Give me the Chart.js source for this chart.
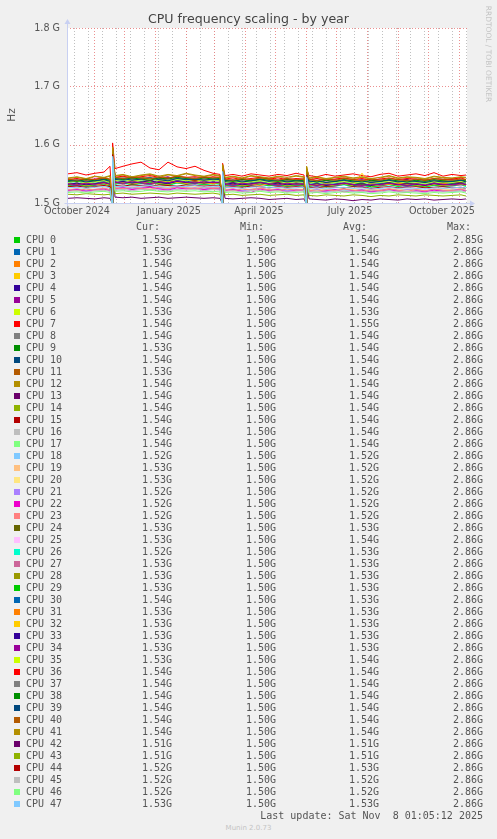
<!DOCTYPE html>
<html>
<head>
<meta charset="utf-8">
<script src="https://cdn.jsdelivr.net/npm/chart.js@4.4.1/dist/chart.umd.min.js"></script>
<style>
  html, body { margin: 0; padding: 0; background: #f0f0f0; }
  body { width: 497px; height: 839px; position: relative; overflow: hidden; font-family: "DejaVu Sans", sans-serif; }
  #chart { position: absolute; left: 0; top: 0; }
  .t { position: absolute; white-space: pre; }
  .mono { font-family: "DejaVu Sans Mono", monospace; font-size: 10px; color: #555; line-height: 12px; }
  .sq { position: absolute; width: 6px; height: 6px; }
</style>
</head>
<body>
<canvas id="chart" width="497" height="230"></canvas>
<div class="t" style="left:0;top:11px;width:497px;text-align:center;font-size:12.6px;line-height:15px;color:#444;">CPU frequency scaling - by year</div>
<div class="t" style="left:-9px;top:109px;width:40px;height:12px;line-height:12px;text-align:center;font-size:10.5px;color:#555;transform:rotate(-90deg);">Hz</div>
<div class="t" style="left:427.5px;top:48.5px;width:120px;height:10px;line-height:10px;text-align:center;font-size:7.5px;color:#c4c4c4;transform:rotate(90deg);">RRDTOOL / TOBI OETIKER</div>
<div id="legend"></div>
<script>
// x positions: days since 1 Oct 2024 (spike days get a low and a high sample)
const days = [5,14,23,32,41,47, 49,49.6, 52,60,69,78,87,96,105,114,123,132,141,150,157, 159,159.6,
  162,170,179,188,197,206,215,224,233,241, 243,243.6,
  246,254,263,272,281,290,299,308,317,326,335,344,353,362,371,380,389,398,403];

// CPU clock in MHz
const cpu0 = [1536,1538,1534,1537,1535,1536,1500,1592,1540,1538,1541,1537,1542,1539,1543,1538,1540,1542,1537,1541,1539,1500,1560,1535,1537,1533,1536,1538,1534,1536,1533,1537,1535,1500,1555,1534,1536,1533,1535,1537,1532,1534,1536,1533,1535,1534,1537,1533,1535,1532,1536,1534,1533,1535];
const cpu1 = [1535,1533,1536,1534,1537,1535,1500,1590,1538,1540,1537,1541,1539,1542,1538,1540,1536,1539,1541,1538,1540,1500,1559,1536,1534,1537,1535,1533,1536,1534,1537,1535,1534,1500,1554,1535,1533,1536,1534,1532,1535,1537,1534,1533,1536,1535,1533,1534,1536,1535,1533,1534,1536,1533];
const cpu2 = [1539,1541,1537,1540,1538,1542,1500,1594,1543,1541,1544,1540,1545,1542,1540,1543,1541,1544,1540,1542,1541,1500,1562,1539,1537,1540,1538,1541,1536,1539,1541,1538,1537,1500,1557,1537,1539,1536,1538,1540,1537,1535,1538,1539,1536,1538,1540,1537,1539,1536,1538,1537,1539,1536];
const cpu3 = [1537,1539,1540,1536,1539,1537,1500,1591,1541,1543,1539,1542,1540,1544,1541,1539,1543,1540,1542,1539,1541,1500,1561,1538,1536,1539,1537,1540,1538,1535,1538,1536,1539,1500,1556,1536,1538,1535,1537,1539,1541,1536,1538,1535,1537,1539,1536,1538,1535,1537,1539,1536,1537,1538];
const cpu4 = [1538,1536,1539,1537,1540,1536,1500,1589,1540,1542,1539,1543,1541,1539,1542,1544,1540,1541,1543,1540,1542,1500,1558,1537,1539,1536,1538,1535,1539,1537,1536,1538,1540,1500,1553,1538,1535,1537,1539,1536,1538,1540,1535,1537,1539,1536,1538,1541,1536,1538,1537,1539,1536,1538];
const cpu5 = [1537,1539,1538,1541,1536,1538,1500,1590,1542,1540,1543,1541,1539,1543,1545,1540,1542,1539,1541,1544,1540,1500,1559,1536,1538,1540,1537,1539,1536,1538,1540,1537,1536,1500,1554,1537,1539,1538,1536,1540,1537,1539,1541,1536,1538,1537,1540,1536,1539,1538,1536,1540,1537,1538];
const cpu6 = [1531,1533,1530,1532,1534,1531,1500,1585,1535,1533,1536,1534,1532,1535,1537,1534,1533,1536,1534,1532,1535,1500,1555,1531,1533,1530,1532,1534,1531,1533,1530,1532,1531,1500,1550,1530,1532,1529,1531,1533,1530,1532,1529,1531,1533,1530,1532,1531,1529,1532,1530,1531,1533,1530];
const cpu7 = [1550,1552,1548,1551,1553,1563,1500,1603,1559,1563,1567,1570,1560,1557,1570,1562,1559,1563,1556,1551,1549,1500,1568,1547,1549,1546,1550,1548,1546,1549,1547,1551,1548,1500,1558,1547,1545,1549,1546,1548,1550,1547,1545,1549,1551,1546,1548,1550,1547,1552,1546,1549,1547,1548];
const cpu8 = [1538,1536,1539,1537,1535,1538,1500,1588,1541,1539,1542,1540,1538,1543,1540,1542,1539,1541,1538,1540,1539,1500,1557,1537,1535,1538,1536,1539,1537,1535,1538,1536,1537,1500,1553,1536,1538,1535,1537,1534,1538,1536,1535,1537,1539,1535,1537,1536,1534,1538,1536,1537,1535,1536];
const cpu9 = [1536,1538,1535,1537,1539,1536,1500,1587,1539,1541,1538,1540,1543,1539,1541,1538,1542,1540,1539,1541,1538,1500,1556,1536,1538,1535,1537,1535,1538,1536,1534,1537,1536,1500,1552,1535,1537,1534,1536,1538,1535,1533,1536,1538,1535,1537,1534,1536,1538,1535,1537,1534,1536,1535];
const cpu10 = [1539,1537,1540,1538,1536,1539,1500,1589,1542,1540,1538,1541,1543,1540,1542,1539,1541,1544,1540,1538,1541,1500,1558,1538,1536,1539,1537,1536,1540,1538,1536,1539,1537,1500,1554,1537,1535,1538,1536,1539,1537,1535,1538,1536,1540,1537,1535,1538,1536,1539,1537,1535,1538,1537];
const cpu11 = [1540,1538,1541,1539,1542,1540,1500,1592,1543,1545,1541,1544,1542,1546,1543,1541,1544,1542,1545,1541,1543,1500,1563,1540,1538,1541,1539,1542,1538,1540,1542,1539,1541,1500,1558,1539,1541,1538,1540,1542,1539,1537,1540,1542,1538,1540,1539,1541,1538,1540,1542,1539,1541,1538];
const cpu12 = [1542,1544,1541,1545,1543,1546,1500,1595,1546,1548,1544,1547,1549,1545,1548,1546,1550,1547,1545,1548,1546,1500,1565,1543,1545,1542,1546,1544,1542,1545,1543,1546,1544,1500,1562,1542,1544,1541,1543,1545,1542,1544,1541,1543,1546,1542,1544,1543,1541,1545,1543,1542,1544,1543];
const cpu13 = [1537,1539,1536,1538,1540,1537,1500,1588,1540,1542,1539,1541,1538,1542,1544,1540,1541,1539,1542,1540,1538,1500,1557,1537,1535,1538,1536,1539,1537,1535,1538,1537,1536,1500,1552,1536,1538,1535,1537,1539,1536,1538,1535,1537,1536,1538,1540,1535,1537,1536,1538,1535,1537,1536];
const cpu14 = [1538,1540,1537,1539,1541,1538,1500,1590,1541,1543,1540,1542,1544,1541,1539,1543,1541,1540,1542,1544,1540,1500,1559,1538,1540,1537,1539,1536,1540,1538,1537,1539,1538,1500,1555,1537,1539,1536,1538,1540,1537,1539,1536,1538,1537,1539,1536,1538,1540,1537,1539,1536,1538,1537];
const cpu15 = [1536,1538,1535,1537,1539,1536,1500,1589,1539,1541,1543,1540,1542,1539,1541,1543,1540,1538,1541,1539,1542,1500,1557,1536,1538,1535,1537,1539,1536,1534,1537,1535,1538,1500,1553,1535,1537,1534,1536,1538,1535,1537,1534,1536,1538,1535,1533,1536,1538,1535,1537,1536,1534,1536];
const cpu16 = [1539,1537,1540,1538,1541,1539,1500,1591,1542,1544,1541,1543,1540,1544,1542,1540,1543,1545,1541,1543,1540,1500,1560,1539,1537,1540,1538,1541,1539,1537,1540,1538,1539,1500,1556,1538,1540,1537,1539,1541,1538,1536,1539,1541,1537,1539,1538,1540,1537,1539,1541,1538,1540,1537];
const cpu17 = [1535,1537,1534,1536,1538,1535,1500,1586,1538,1540,1537,1539,1541,1538,1536,1540,1538,1541,1537,1539,1538,1500,1555,1535,1537,1534,1536,1538,1535,1537,1534,1536,1535,1500,1551,1534,1536,1533,1535,1537,1534,1536,1533,1535,1537,1534,1536,1535,1533,1536,1534,1535,1537,1534];
const cpu18 = [1521,1522,1520,1522,1523,1521,1500,1578,1524,1523,1525,1524,1522,1525,1524,1523,1525,1524,1522,1524,1523,1500,1550,1521,1522,1520,1521,1523,1521,1522,1520,1521,1522,1500,1544,1520,1521,1519,1521,1522,1520,1518,1521,1520,1522,1521,1519,1520,1522,1520,1521,1519,1521,1520];
const cpu19 = [1523,1525,1522,1524,1526,1523,1500,1580,1526,1528,1525,1527,1529,1526,1524,1528,1526,1527,1525,1527,1526,1500,1551,1523,1525,1522,1524,1526,1523,1525,1522,1524,1523,1500,1546,1522,1524,1521,1523,1525,1522,1524,1521,1523,1525,1522,1524,1523,1521,1524,1522,1523,1525,1524];
const cpu20 = [1524,1522,1525,1523,1521,1524,1500,1581,1527,1525,1528,1526,1524,1527,1529,1526,1525,1528,1526,1524,1527,1500,1551,1524,1522,1525,1523,1521,1524,1522,1525,1523,1524,1500,1546,1523,1521,1524,1522,1525,1523,1521,1524,1522,1523,1525,1522,1524,1521,1523,1525,1522,1524,1525];
const cpu21 = [1522,1524,1521,1523,1525,1522,1500,1579,1525,1527,1524,1526,1528,1525,1523,1527,1525,1526,1524,1526,1525,1500,1550,1522,1524,1521,1523,1525,1522,1524,1521,1523,1522,1500,1545,1521,1523,1520,1522,1524,1521,1523,1520,1522,1524,1521,1523,1522,1520,1523,1521,1522,1524,1521];
const cpu22 = [1521,1523,1520,1522,1524,1521,1500,1578,1524,1526,1523,1525,1527,1524,1522,1526,1524,1525,1523,1525,1524,1500,1549,1521,1523,1520,1518,1524,1521,1523,1519,1522,1521,1500,1544,1520,1518,1521,1523,1519,1521,1522,1519,1521,1523,1520,1518,1521,1519,1522,1520,1521,1523,1520];
const cpu23 = [1523,1521,1524,1522,1525,1523,1500,1580,1526,1524,1527,1525,1523,1527,1525,1528,1526,1524,1527,1525,1526,1500,1551,1523,1521,1524,1522,1525,1523,1521,1524,1522,1523,1500,1546,1522,1520,1523,1521,1524,1522,1520,1523,1521,1524,1522,1520,1523,1521,1524,1522,1521,1523,1522];
const cpu24 = [1530,1532,1529,1531,1533,1530,1500,1584,1533,1535,1532,1534,1536,1533,1531,1535,1533,1534,1532,1534,1533,1500,1554,1530,1532,1529,1531,1533,1530,1532,1529,1531,1530,1500,1549,1529,1531,1528,1530,1532,1529,1531,1528,1530,1532,1529,1531,1530,1528,1531,1529,1530,1532,1529];
const cpu25 = [1538,1541,1537,1544,1539,1542,1500,1589,1542,1540,1545,1541,1543,1546,1540,1544,1542,1545,1541,1543,1540,1500,1559,1538,1541,1537,1543,1539,1536,1540,1545,1538,1540,1500,1555,1537,1540,1536,1542,1538,1541,1536,1539,1543,1537,1540,1538,1542,1536,1539,1541,1537,1540,1538];
const cpu26 = [1529,1531,1528,1530,1532,1529,1500,1582,1532,1534,1531,1533,1535,1532,1530,1534,1532,1533,1531,1533,1532,1500,1553,1529,1531,1528,1530,1532,1529,1531,1528,1530,1529,1500,1548,1528,1530,1527,1529,1531,1528,1530,1527,1529,1531,1528,1530,1529,1527,1530,1528,1529,1531,1528];
const cpu27 = [1531,1529,1532,1530,1533,1531,1500,1583,1534,1532,1535,1533,1531,1535,1533,1536,1534,1532,1535,1533,1534,1500,1554,1531,1529,1532,1530,1533,1531,1529,1532,1530,1531,1500,1549,1530,1528,1531,1529,1532,1530,1528,1531,1529,1532,1530,1528,1531,1529,1532,1530,1529,1531,1530];
const cpu28 = [1532,1534,1531,1533,1535,1532,1500,1585,1535,1537,1534,1536,1538,1535,1533,1537,1535,1536,1534,1536,1535,1500,1555,1532,1534,1531,1533,1535,1532,1534,1531,1533,1532,1500,1550,1531,1533,1530,1532,1534,1531,1533,1530,1532,1534,1531,1533,1532,1530,1533,1531,1532,1534,1531];
const cpu29 = [1530,1532,1529,1531,1533,1530,1500,1584,1533,1535,1532,1534,1536,1533,1531,1535,1533,1534,1532,1534,1533,1500,1553,1530,1532,1529,1531,1533,1530,1532,1529,1531,1530,1500,1549,1529,1531,1528,1530,1532,1529,1531,1528,1530,1532,1529,1531,1530,1528,1531,1529,1530,1532,1530];
const cpu30 = [1532,1530,1533,1531,1534,1532,1500,1584,1535,1533,1536,1534,1532,1536,1534,1537,1535,1533,1536,1534,1535,1500,1554,1532,1530,1533,1531,1534,1532,1530,1533,1531,1532,1500,1550,1531,1529,1532,1530,1533,1531,1529,1532,1530,1533,1531,1529,1532,1530,1533,1531,1530,1533,1536];
const cpu31 = [1533,1531,1534,1532,1530,1533,1500,1586,1536,1534,1537,1535,1533,1536,1538,1535,1534,1537,1535,1533,1536,1500,1556,1533,1531,1534,1532,1530,1533,1531,1534,1532,1533,1500,1551,1532,1530,1533,1531,1534,1532,1530,1533,1531,1532,1534,1531,1533,1530,1532,1534,1531,1533,1532];
const cpu32 = [1531,1533,1530,1532,1534,1531,1500,1585,1534,1536,1533,1535,1537,1534,1532,1536,1534,1535,1533,1535,1534,1500,1555,1531,1533,1530,1532,1534,1531,1533,1530,1532,1531,1500,1550,1530,1532,1529,1531,1533,1530,1551,1529,1531,1533,1530,1532,1531,1529,1532,1530,1531,1533,1530];
const cpu33 = [1532,1534,1531,1533,1535,1532,1500,1585,1535,1537,1534,1536,1538,1535,1533,1537,1535,1536,1534,1536,1535,1500,1555,1532,1534,1531,1533,1535,1532,1534,1531,1533,1532,1500,1550,1531,1533,1530,1532,1534,1531,1533,1530,1532,1534,1531,1533,1532,1530,1533,1531,1532,1534,1531];
const cpu34 = [1533,1531,1534,1532,1535,1533,1500,1586,1536,1534,1537,1535,1533,1537,1535,1538,1536,1534,1537,1535,1536,1500,1556,1533,1531,1534,1532,1535,1533,1531,1534,1532,1533,1500,1551,1532,1530,1533,1531,1534,1532,1530,1533,1531,1534,1532,1530,1533,1531,1534,1532,1531,1533,1532];
const cpu35 = [1536,1538,1535,1537,1539,1536,1500,1587,1539,1541,1538,1540,1542,1539,1537,1541,1539,1540,1538,1540,1539,1500,1557,1536,1538,1535,1537,1539,1536,1538,1535,1537,1536,1500,1552,1535,1537,1534,1536,1538,1535,1537,1534,1536,1538,1535,1537,1536,1534,1537,1535,1536,1538,1535];
const cpu36 = [1540,1542,1539,1541,1543,1540,1500,1595,1544,1546,1543,1545,1547,1544,1542,1546,1544,1545,1543,1545,1544,1500,1562,1541,1543,1540,1542,1544,1541,1543,1540,1542,1541,1500,1557,1540,1542,1539,1541,1543,1540,1542,1539,1541,1543,1540,1542,1541,1539,1542,1540,1541,1543,1540];
const cpu37 = [1538,1540,1537,1539,1541,1538,1500,1589,1541,1543,1540,1542,1544,1541,1539,1543,1541,1542,1540,1542,1541,1500,1558,1538,1540,1537,1539,1541,1538,1540,1537,1539,1538,1500,1554,1537,1539,1536,1538,1540,1537,1539,1536,1538,1540,1537,1539,1538,1536,1539,1537,1538,1540,1537];
const cpu38 = [1539,1537,1540,1538,1541,1539,1500,1590,1542,1540,1543,1541,1539,1543,1541,1544,1542,1540,1543,1541,1542,1500,1559,1539,1537,1540,1538,1541,1539,1537,1540,1538,1539,1500,1555,1538,1536,1539,1537,1540,1538,1536,1539,1537,1540,1538,1536,1539,1537,1540,1538,1537,1539,1538];
const cpu39 = [1537,1539,1536,1538,1540,1537,1500,1588,1540,1542,1539,1541,1543,1540,1538,1542,1540,1541,1539,1541,1540,1500,1557,1537,1539,1536,1538,1540,1537,1539,1536,1538,1537,1500,1553,1536,1538,1535,1537,1539,1536,1538,1535,1537,1539,1536,1538,1537,1535,1538,1536,1537,1539,1536];
const cpu40 = [1541,1539,1542,1540,1543,1541,1500,1593,1544,1542,1545,1543,1541,1545,1543,1546,1544,1542,1545,1543,1544,1500,1562,1541,1539,1542,1540,1543,1541,1539,1542,1540,1541,1500,1558,1540,1538,1541,1539,1542,1540,1538,1541,1539,1542,1540,1538,1541,1539,1542,1540,1539,1541,1540];
const cpu41 = [1543,1545,1542,1546,1544,1547,1500,1596,1547,1549,1545,1548,1550,1546,1549,1547,1551,1548,1546,1549,1547,1500,1566,1544,1546,1543,1547,1545,1543,1546,1544,1547,1545,1500,1563,1543,1545,1542,1544,1546,1543,1545,1542,1544,1547,1543,1545,1544,1542,1546,1544,1543,1545,1544];
const cpu42 = [1508,1509,1508,1507,1509,1508,1500,1572,1510,1509,1510,1508,1509,1510,1508,1509,1510,1509,1508,1509,1508,1500,1540,1508,1507,1508,1509,1508,1506,1507,1508,1506,1507,1500,1538,1507,1506,1505,1507,1506,1504,1506,1505,1507,1506,1505,1507,1506,1507,1505,1506,1507,1506,1507];
const cpu43 = [1515,1514,1516,1515,1514,1515,1500,1575,1516,1517,1515,1516,1517,1516,1515,1517,1516,1515,1516,1517,1515,1500,1545,1514,1515,1513,1514,1515,1513,1514,1515,1513,1514,1500,1540,1513,1512,1514,1513,1512,1514,1513,1511,1513,1512,1514,1513,1512,1514,1513,1512,1513,1514,1512];
const cpu44 = [1528,1529,1527,1528,1530,1528,1500,1583,1530,1529,1531,1530,1529,1531,1530,1529,1531,1530,1529,1530,1529,1500,1552,1527,1528,1527,1529,1528,1526,1528,1527,1528,1527,1500,1547,1527,1526,1528,1527,1526,1528,1527,1525,1527,1528,1526,1527,1528,1526,1527,1528,1526,1527,1525];
const cpu45 = [1520,1521,1519,1521,1522,1520,1500,1577,1522,1523,1521,1523,1524,1522,1521,1523,1522,1524,1521,1523,1522,1500,1548,1520,1521,1519,1521,1522,1520,1521,1519,1520,1521,1500,1543,1519,1520,1518,1520,1521,1519,1520,1518,1519,1521,1519,1520,1519,1518,1520,1519,1520,1521,1519];
const cpu46 = [1518,1519,1517,1519,1520,1518,1500,1576,1520,1521,1519,1520,1522,1520,1519,1521,1520,1521,1519,1520,1519,1500,1547,1518,1519,1517,1518,1520,1518,1519,1517,1518,1519,1500,1542,1517,1518,1516,1518,1519,1517,1518,1516,1517,1519,1517,1518,1517,1516,1518,1517,1518,1519,1517];
const cpu47 = [1526,1527,1525,1527,1528,1526,1500,1580,1528,1529,1527,1529,1530,1528,1527,1529,1528,1530,1527,1529,1528,1500,1554,1526,1527,1525,1527,1528,1526,1527,1525,1526,1527,1500,1545,1525,1526,1524,1526,1527,1525,1526,1524,1525,1527,1525,1526,1525,1524,1526,1525,1526,1527,1525];

const series = [cpu0,cpu1,cpu2,cpu3,cpu4,cpu5,cpu6,cpu7,cpu8,cpu9,cpu10,cpu11,cpu12,cpu13,cpu14,cpu15,
  cpu16,cpu17,cpu18,cpu19,cpu20,cpu21,cpu22,cpu23,cpu24,cpu25,cpu26,cpu27,cpu28,cpu29,cpu30,cpu31,
  cpu32,cpu33,cpu34,cpu35,cpu36,cpu37,cpu38,cpu39,cpu40,cpu41,cpu42,cpu43,cpu44,cpu45,cpu46,cpu47];

// legend figures (GHz)
const curVals = [1.53,1.53,1.54,1.54,1.54,1.54,1.53,1.54,1.54,1.53,1.54,1.53,1.54,1.54,1.54,1.54,
  1.54,1.54,1.52,1.53,1.53,1.52,1.52,1.52,1.53,1.53,1.52,1.53,1.53,1.53,1.54,1.53,
  1.53,1.53,1.53,1.53,1.54,1.54,1.54,1.54,1.54,1.54,1.51,1.51,1.52,1.52,1.52,1.53];
const minVals = Array(48).fill(1.50);
const avgVals = [1.54,1.54,1.54,1.54,1.54,1.54,1.53,1.55,1.54,1.54,1.54,1.54,1.54,1.54,1.54,1.54,
  1.54,1.54,1.52,1.52,1.52,1.52,1.52,1.52,1.53,1.54,1.53,1.53,1.53,1.53,1.53,1.53,
  1.53,1.53,1.53,1.54,1.54,1.54,1.54,1.54,1.54,1.54,1.51,1.51,1.53,1.52,1.52,1.53];
const maxVals = [2.85].concat(Array(47).fill(2.86));

const palette = ['#00CC00','#0066B3','#FF8000','#FFCC00','#330099','#990099','#CCFF00','#FF0000','#808080',
  '#008F00','#00487D','#B35A00','#B38F00','#6B006B','#8FB300','#B30000','#BEBEBE','#80FF80','#80C9FF',
  '#FFC080','#FFE680','#AA80FF','#EE00CC','#FF8080','#666600','#FFBFFF','#00FFCC','#CC6699','#999900'];

const xTickDays = [14, 106, 196, 287, 379];
const xTickLabels = ['October 2024', 'January 2025', 'April 2025', 'July 2025', 'October 2025'];
const monthStartDays = [31, 61, 92, 123, 151, 182, 212, 243, 273, 304, 335, 365, 396];
const yGridValues = [1600, 1700, 1800];

const minorDays = [];
for (let d = 11; d <= 404; d += 14) minorDays.push(d);

const rrdGrid = {
  id: 'rrdGrid',
  beforeDatasetsDraw(chart) {
    const { ctx, chartArea: a, scales: { x, y } } = chart;
    ctx.save();
    ctx.fillStyle = '#ffffff';
    ctx.fillRect(a.left, a.top, a.right - a.left, a.bottom - a.top);
    ctx.lineWidth = 1;
    ctx.setLineDash([1, 2]);
    const vline = (d) => {
      const px = Math.round(x.getPixelForValue(d)) + 0.5;
      ctx.beginPath(); ctx.moveTo(px, a.top); ctx.lineTo(px, a.bottom); ctx.stroke();
    };
    ctx.strokeStyle = 'rgba(185,185,185,0.9)';
    minorDays.forEach(vline);
    ctx.strokeStyle = 'rgba(232,125,125,0.85)';
    monthStartDays.forEach(vline);
    yGridValues.forEach(v => {
      const py = Math.round(y.getPixelForValue(v)) + 0.5;
      ctx.beginPath(); ctx.moveTo(a.left, py); ctx.lineTo(a.right, py); ctx.stroke();
    });
    ctx.restore();
  },
  afterDatasetsDraw(chart) {
    const { ctx, chartArea: a } = chart;
    const lx = Math.round(a.left) + 0.5, by = Math.round(a.bottom) + 0.5;
    ctx.save();
    ctx.strokeStyle = '#c8d0f2';
    ctx.fillStyle = '#c8d0f2';
    ctx.lineWidth = 1;
    ctx.beginPath();
    ctx.moveTo(lx, by + 3); ctx.lineTo(lx, a.top - 5);
    ctx.moveTo(lx - 3, by); ctx.lineTo(a.right + 4, by);
    ctx.stroke();
    ctx.beginPath();
    ctx.moveTo(lx - 3, a.top - 4); ctx.lineTo(lx + 3, a.top - 4); ctx.lineTo(lx, a.top - 9); ctx.closePath();
    ctx.fill();
    ctx.beginPath();
    ctx.moveTo(a.right + 3, by - 3); ctx.lineTo(a.right + 3, by + 3); ctx.lineTo(a.right + 8, by); ctx.closePath();
    ctx.fill();
    ctx.restore();
  }
};

const datasets = series.map((vals, i) => ({
  label: 'CPU ' + i,
  data: vals.map((v, k) => ({ x: days[k], y: v })),
  borderColor: palette[i % palette.length],
  borderWidth: 1,
  pointRadius: 0,
  tension: 0,
  fill: false,
  order: -i
}));

const tickFont = { family: 'DejaVu Sans', size: 9.6 };

new Chart(document.getElementById('chart').getContext('2d'), {
  type: 'line',
  data: { datasets },
  plugins: [rrdGrid],
  options: {
    responsive: false,
    animation: false,
    layout: { padding: { left: 0, right: 30, top: 28, bottom: 0 } },
    plugins: { legend: { display: false }, tooltip: { enabled: false }, title: { display: false } },
    scales: {
      x: {
        type: 'linear', min: 4, max: 404,
        afterFit: s => { s.height = 27; },
        afterBuildTicks: s => { s.ticks = xTickDays.map(d => ({ value: d })); },
        ticks: { autoSkip: false, maxRotation: 0, padding: 3, color: '#555', font: tickFont,
                 callback: (v, idx) => xTickLabels[idx] },
        grid: { display: false, drawTicks: false },
        border: { display: false }
      },
      y: {
        min: 1500, max: 1800,
        afterFit: s => { s.width = 67; },
        ticks: { stepSize: 100, padding: 7, color: '#555', font: tickFont,
                 callback: v => (v / 1000).toFixed(1) + ' G' },
        grid: { display: false, drawTicks: false },
        border: { display: false }
      }
    }
  }
});

// legend table below the graph
const legend = document.getElementById('legend');
function text(str, css) {
  const d = document.createElement('div');
  d.className = 't mono';
  d.textContent = str;
  d.style.cssText += css;
  legend.appendChild(d);
}
const valueEdges = [172, 276, 379, 483];
const headEdges = [160, 264, 367, 471];
['Cur:', 'Min:', 'Avg:', 'Max:'].forEach((h, c) => text(h, 'right:' + (497 - headEdges[c]) + 'px;top:' + (227 - 6) + 'px;'));
series.forEach((_, i) => {
  const cy = 240 + 12 * i;
  const sq = document.createElement('div');
  sq.className = 'sq';
  sq.style.left = '14px';
  sq.style.top = (cy - 3) + 'px';
  sq.style.background = palette[i % palette.length];
  legend.appendChild(sq);
  text('CPU ' + i, 'left:26px;top:' + (cy - 6) + 'px;');
  [curVals, minVals, avgVals, maxVals].forEach((arr, c) =>
    text(arr[i].toFixed(2) + 'G', 'right:' + (497 - valueEdges[c]) + 'px;top:' + (cy - 6) + 'px;'));
});
text('Last update: Sat Nov  8 01:05:12 2025', 'right:14px;top:' + (816 - 6) + 'px;');
const munin = document.createElement('div');
munin.className = 't';
munin.style.cssText = 'left:0;width:497px;text-align:center;top:823px;font-size:7px;line-height:10px;color:#c4c4c4;';
munin.textContent = 'Munin 2.0.73';
legend.appendChild(munin);
</script>
</body>
</html>
